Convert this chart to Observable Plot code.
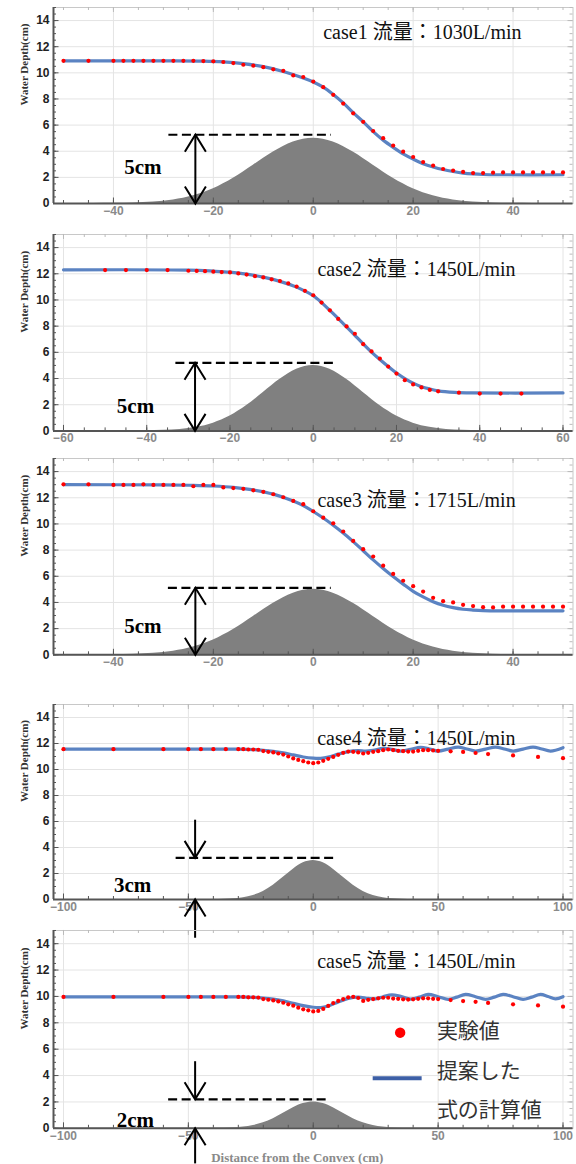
<!DOCTYPE html>
<html><head><meta charset="utf-8">
<script src="https://cdn.jsdelivr.net/npm/d3@7"></script>
<script src="https://cdn.jsdelivr.net/npm/@observablehq/plot@0.6"></script>
<style>
html,body{margin:0;padding:0;background:#fff;}
#chart{position:relative;width:576px;height:1164px;overflow:hidden;}
#chart svg{position:absolute;left:0;}
</style></head><body><div id="chart"></div>
<script>
// ---------- data ----------
const yTicks = [0,2,4,6,8,10,12,14];
const xTicks50 = [-40,-20,0,20,40];
const xTicks60 = [-60,-40,-20,0,20,40,60];
const xTicks100 = [-100,-50,0,50,100];

// experimental points (x positions)
const xCase13 = [-50,-45,-40,-38,-36,-34,-32,-30,-28,-26,-24,-22,-20,-18,-16,-14,-12,-10,-8,-6,-4,-2,0,2,4,6,8,10,12,14,16,18,20,22,24,26,28,30,32,34,36,38,40,42,44,46,48,50];
const xCase2 = [-50,-45,-40,-35,-30,-28,-26,-24,-22,-20,-18,-16,-14,-12,-10,-8,-6,-4,-2,0,2,4,6,8,10,12,14,16,18,20,22,24,26,28,30,35,40,45,50];
const xCase45 = [-100,-80,-60,-50,-45,-40,-35,-30,-28,-26,-24,-22,-20,-18,-16,-14,-12,-10,-8,-6,-4,-2,0,2,4,6,8,10,12,14,16,18,20,22,24,26,28,30,32,34,36,38,40,42,44,46,48,50,55,60,65,70,80,90,100];

const case1Exp = [10.92,10.92,10.92,10.92,10.92,10.92,10.92,10.92,10.92,10.92,10.92,10.90,10.88,10.83,10.75,10.62,10.55,10.43,10.27,10.15,9.80,9.68,9.33,8.90,8.32,7.65,6.90,6.25,5.55,5.00,4.43,3.97,3.56,3.17,2.90,2.64,2.52,2.42,2.33,2.33,2.36,2.38,2.38,2.38,2.38,2.38,2.38,2.38];
const case2Exp = [12.28,12.28,12.28,12.28,12.23,12.22,12.20,12.16,12.13,12.10,12.03,11.94,11.82,11.72,11.58,11.44,11.26,11.02,10.70,10.36,9.80,9.21,8.55,7.98,7.42,6.62,6.07,5.52,4.91,4.38,3.87,3.55,3.32,3.13,3.02,2.92,2.85,2.85,2.85];
const case3Exp = [13.03,13.03,12.98,12.98,12.98,13.03,12.98,12.98,12.98,12.98,12.88,12.98,12.98,12.79,12.74,12.68,12.57,12.45,12.27,12.04,11.76,11.51,10.97,10.48,10.05,9.42,8.70,8.07,7.51,6.81,6.18,5.66,5.24,4.83,4.35,4.10,4.00,3.82,3.72,3.64,3.62,3.68,3.68,3.68,3.68,3.68,3.68,3.68];
const case4Exp = [11.56,11.56,11.56,11.56,11.56,11.56,11.56,11.56,11.56,11.54,11.54,11.52,11.42,11.36,11.31,11.23,11.15,11.00,10.85,10.74,10.64,10.54,10.49,10.54,10.67,10.82,10.97,11.13,11.28,11.38,11.36,11.31,11.23,11.28,11.36,11.41,11.49,11.54,11.49,11.44,11.41,11.38,11.38,11.44,11.49,11.49,11.46,11.44,11.40,11.35,11.27,11.19,11.08,10.97,10.87];
const case5Exp = [9.96,9.96,9.96,9.96,9.96,9.96,9.96,9.96,9.96,9.93,9.93,9.91,9.80,9.75,9.70,9.62,9.52,9.40,9.30,9.15,9.02,8.95,8.86,8.90,9.05,9.28,9.50,9.66,9.80,9.93,9.97,9.88,9.66,9.74,9.80,9.86,9.90,9.90,9.84,9.82,9.78,9.76,9.78,9.82,9.86,9.86,9.82,9.80,9.72,9.65,9.59,9.51,9.40,9.32,9.22];

// proposed-formula curves
const case1CalcX = [-50,-30,-22,-18,-14,-10,-6,-2,0,2,4,6,8,10,12,14,16,18,20,22,24,26,28,30,32,34,38,50];
const case1CalcY = [10.92,10.92,10.9,10.84,10.7,10.47,10.1,9.6,9.3,8.9,8.35,7.7,6.95,6.25,5.5,4.85,4.3,3.8,3.4,3.05,2.8,2.6,2.45,2.33,2.26,2.22,2.2,2.2];
const case2CalcX = [-60,-30,-24,-20,-16,-12,-8,-4,-2,0,2,4,6,8,10,12,14,16,18,20,22,24,26,28,30,34,38,60];
const case2CalcY = [12.3,12.28,12.2,12.12,11.97,11.74,11.42,10.98,10.68,10.32,9.8,9.2,8.58,7.95,7.3,6.65,6.02,5.45,4.92,4.42,4.0,3.65,3.38,3.2,3.06,2.94,2.9,2.9];
const case3CalcX = [-50,-30,-24,-20,-16,-12,-8,-4,-2,0,2,4,6,8,10,12,14,16,18,20,22,24,26,28,30,32,34,38,50];
const case3CalcY = [13.0,12.98,12.95,12.9,12.8,12.6,12.28,11.75,11.4,10.95,10.45,9.9,9.3,8.65,7.95,7.25,6.6,5.98,5.4,4.85,4.42,4.05,3.78,3.6,3.48,3.42,3.38,3.36,3.36];
const case4CalcX = [-100,-30,-24,-20,-16,-12,-8,-4,0,3,6,10,14,18,21,24,28,31.5,35,39,43,46.5,50,54,58,61.5,65,69,73,76.5,80,84,88,91.5,95,100];
const case4CalcY = [11.56,11.56,11.53,11.48,11.4,11.28,11.12,10.96,10.87,10.86,10.95,11.18,11.38,11.45,11.42,11.48,11.62,11.55,11.42,11.56,11.7,11.58,11.42,11.57,11.72,11.58,11.42,11.57,11.72,11.58,11.42,11.57,11.72,11.58,11.42,11.68];
const case5CalcX = [-100,-30,-24,-20,-16,-12,-8,-4,0,3,6,10,14,18,22,25,28,31.5,35,39,42.5,46,50,54,57.5,61,65,69,72.5,76,80,84,87.5,91,94,97,100];
const case5CalcY = [9.96,9.96,9.93,9.88,9.8,9.66,9.48,9.3,9.18,9.16,9.28,9.58,9.85,9.95,9.85,9.82,9.98,10.12,10.0,9.8,9.95,10.15,9.98,9.78,9.95,10.15,9.98,9.78,9.95,10.15,9.98,9.78,9.95,10.15,10.0,9.82,9.98];

// convex (bump) profiles
const bump5X = [-60,-50,-44,-40,-36,-32,-28,-24,-20,-16,-12,-8,-4,0,4,8,12,16,20,24,28,32,36,40,44,50,60];
const bump5Y = [0,0,0,0.01,0.04,0.11,0.27,0.59,1.13,1.93,2.93,3.94,4.71,5,4.71,3.94,2.93,1.93,1.13,0.59,0.27,0.11,0.04,0.01,0,0,0];
const bumpSmallX = [-104,-40,-36,-32,-28,-24,-20,-16,-12,-8,-4,0,4,8,12,16,20,24,28,32,36,40,104];
const bump3Y = [0,0,0.02,0.05,0.14,0.31,0.62,1.1,1.71,2.33,2.82,3,2.82,2.33,1.71,1.1,0.62,0.31,0.14,0.05,0.02,0,0];
const bump2Y = [0,0,0.01,0.04,0.09,0.21,0.42,0.73,1.14,1.56,1.88,2,1.88,1.56,1.14,0.73,0.42,0.21,0.09,0.04,0.01,0,0];

const caseLabels = ["case1 流量：1030L/min","case2 流量：1450L/min","case3 流量：1715L/min","case4 流量：1450L/min","case5 流量：1450L/min"];
const heightLabels = ["5cm","5cm","5cm","3cm","2cm"];
const legendLabels = ["実験値","提案した","式の計算値"];
const yLabel = "Water Depth(cm)";
const xLabel = "Distance from the Convex (cm)";

// ---------- layout ----------
const W = 576, ML = 53, MR = 3.5, MT = 12;
const FW = W - ML - MR;
const serif = "'Liberation Serif','Noto Sans CJK JP',serif";
const sans = "'Liberation Sans',Arial,sans-serif";
const cjk = "'Noto Sans CJK JP',sans-serif";

const panels = [
  {top:7, bottom:203, xd:[-52,52], xMajor:xTicks50, minorStep:5, ex:xCase13, ey:case1Exp, cx:case1CalcX, cy:case1CalcY, bx:bump5X, by:bump5Y,
   label:{x:2.0,y:12.62}, hl:{x:-34.1,y:2.27}, dash:{y:5.26,x1:-28.9,x2:3.65}, arrows:[{x:-23.6,y1:0,y2:5.26,up:true,down:true}]},
  {top:233.6, bottom:430, xd:[-62.4,62.4], xMajor:xTicks60, minorStep:5, ex:xCase2, ey:case2Exp, cx:case2CalcX, cy:case2CalcY, bx:bump5X, by:bump5Y,
   label:{x:1.0,y:11.84}, hl:{x:-42.7,y:1.4}, dash:{y:5.2,x1:-33,x2:5.9}, arrows:[{x:-28.4,y1:0,y2:5.2,up:true,down:true}]},
  {top:458, bottom:654.3, xd:[-52,52], xMajor:xTicks50, minorStep:5, ex:xCase13, ey:case3Exp, cx:case3CalcX, cy:case3CalcY, bx:bump5X, by:bump5Y,
   label:{x:0.85,y:11.33}, hl:{x:-34.1,y:1.68}, dash:{y:5.12,x1:-29,x2:3.6}, arrows:[{x:-23.6,y1:0,y2:5.12,up:true,down:true}]},
  {top:704.3, bottom:899.3, xd:[-104,104], xMajor:xTicks100, minorStep:10, ex:xCase45, ey:case4Exp, cx:case4CalcX, cy:case4CalcY, bx:bumpSmallX, by:bump3Y,
   label:{x:1.6,y:11.9}, hl:{x:-72.3,y:0.58}, dash:{y:3.2,x1:-54.9,x2:9.9},
   arrows:[{x:-47.3,y1:3.2,y2:6.1,down:true,tipDown:3.2},{x:-47.3,y1:-2.98,y2:0,up:true}]},
  {top:929.5, bottom:1127.3, xd:[-104,104], xMajor:xTicks100, minorStep:10, ex:xCase45, ey:case5Exp, cx:case5CalcX, cy:case5CalcY, bx:bumpSmallX, by:bump2Y,
   label:{x:1.6,y:12.13}, hl:{x:-71.2,y:0.1}, dash:{y:2.2,x1:-57.9,x2:6.9},
   arrows:[{x:-47.3,y1:2.2,y2:5.05,down:true,tipDown:2.2},{x:-47.3,y1:-2.7,y2:0,up:true}], legend:true, xTitle:true}
];

const vUp = {draw(c){c.moveTo(-10.5,17);c.lineTo(0,0);c.lineTo(10.5,17);}};
const vDown = {draw(c){c.moveTo(-10.5,-17);c.lineTo(0,0);c.lineTo(10.5,-17);}};

const chart = document.getElementById("chart");
panels.forEach((p, i) => {
  const H = p.bottom - p.top;
  const MB = 44;
  const exp = p.ex.map((x, k) => ({x, y: p.ey[k]}));
  const calc = p.cx.map((x, k) => ({x, y: p.cy[k]}));
  const bump = p.bx.map((x, k) => ({x, y: p.by[k]}));
  const xMinor = d3.range(Math.ceil(p.xd[0] / p.minorStep) * p.minorStep, p.xd[1] + 0.001, p.minorStep);
  const yMinor = d3.range(0, 15.001, 0.5);
  const upHeads = [], downHeads = [];
  p.arrows.forEach(a => {
    if (a.up) upHeads.push({x: a.x, y: a.up === true && a.down ? a.y2 : a.y2});
    if (a.down) downHeads.push({x: a.x, y: a.tipDown !== undefined ? a.tipDown : a.y1});
  });
  const marks = [
    Plot.gridY(yTicks, {stroke: "#e4e4e4", strokeOpacity: 1}),
    Plot.gridX(p.xMajor, {stroke: "#e4e4e4", strokeOpacity: 1}),
    Plot.areaY(bump, {x: "x", y: "y", fill: "#808080", curve: "monotone-x", clip: true}),
    Plot.frame({stroke: "#c8c8c8"}),
    Plot.tickY(yMinor, {y: d => d, insetRight: FW - 3, stroke: "#555"}),
    Plot.tickY(yTicks, {y: d => d, insetRight: FW - 5.5, stroke: "#555"}),
    Plot.tickY(yMinor, {y: d => d, insetLeft: FW - 3, stroke: "#bbb"}),
    Plot.tickY(yTicks, {y: d => d, insetLeft: FW - 5, stroke: "#bbb"}),
    Plot.tickX(xMinor, {x: d => d, insetTop: H - 3, stroke: "#555"}),
    Plot.tickX(p.xMajor, {x: d => d, insetTop: H - 5.5, stroke: "#555"}),
    Plot.tickX(xMinor, {x: d => d, insetBottom: H - 3, stroke: "#bbb"}),
    Plot.tickX(p.xMajor, {x: d => d, insetBottom: H - 5, stroke: "#bbb"}),
    Plot.ruleX([p.xd[0]], {stroke: "#555", strokeWidth: 2}),
    Plot.ruleY([0], {stroke: "#555", strokeWidth: 2}),
    Plot.axisY(yTicks, {tickSize: 0, tickPadding: 4, fontSize: 12, fontWeight: "bold", color: "#222", label: null, fontFamily: sans}),
    Plot.axisX(p.xMajor, {tickSize: 0, tickPadding: 3, fontSize: 12, fontWeight: "bold", color: "#8a8a8a", label: null, fontFamily: sans}),
    Plot.text([yLabel], {frameAnchor: "left", dx: -29, rotate: -90, fontFamily: serif, fontWeight: "bold", fontSize: 11, fill: "#333"}),
    Plot.ruleY([p.dash], {y: "y", x1: "x1", x2: "x2", stroke: "#000", strokeWidth: 2.2, strokeDasharray: "9,4.5"}),
    Plot.ruleX(p.arrows, {x: "x", y1: "y1", y2: "y2", stroke: "#000", strokeWidth: 2}),
    Plot.dot(upHeads, {x: "x", y: "y", symbol: vUp, fill: "none", stroke: "#000", strokeWidth: 2}),
    Plot.dot(downHeads, {x: "x", y: "y", symbol: vDown, fill: "none", stroke: "#000", strokeWidth: 2}),
    Plot.text([{...p.hl, t: heightLabels[i]}], {x: "x", y: "y", text: "t", textAnchor: "middle", lineAnchor: "bottom", fontFamily: serif, fontWeight: "bold", fontSize: 21, fill: "#000"}),
    Plot.line(calc, {x: "x", y: "y", stroke: "#5b83c2", strokeWidth: 3.2, curve: "catmull-rom"}),
    Plot.dot(exp, {x: "x", y: "y", r: 2.1, fill: "#ff0000", stroke: "none"}),
    Plot.text([{...p.label, t: caseLabels[i]}], {x: "x", y: "y", text: "t", textAnchor: "start", lineAnchor: "bottom", fontFamily: serif, fontSize: 20, fill: "#111"})
  ];
  if (p.legend) {
    marks.push(
      Plot.dot([{x: 34.8, y: 7.25}], {x: "x", y: "y", r: 5.2, fill: "#ff0000"}),
      Plot.ruleY([{x1: 24, x2: 43.6, y: 3.79}], {y: "y", x1: "x1", x2: "x2", stroke: "#3d5fa6", strokeWidth: 4}),
      Plot.text(legendLabels.map((t, k) => ({t, x: 49.5, y: [6.82, 3.84, 0.86][k]})), {x: "x", y: "y", text: "t", textAnchor: "start", lineAnchor: "bottom", fontFamily: cjk, fontSize: 21, fill: "#333"})
    );
  }
  if (p.xTitle) {
    marks.push(Plot.text([xLabel], {frameAnchor: "bottom", dy: 34, dx: -16, lineAnchor: "bottom", fontFamily: serif, fontWeight: "bold", fontSize: 13, fill: "#8a8a8a"}));
  }
  const svg = Plot.plot({
    width: W, height: MT + H + MB,
    marginLeft: ML, marginRight: MR, marginTop: MT, marginBottom: MB,
    x: {domain: p.xd},
    y: {domain: [0, 15]},
    style: {background: "transparent", overflow: "visible", fontFamily: sans},
    marks
  });
  svg.style.top = (p.top - MT) + "px";
  chart.appendChild(svg);
});
</script></body></html>
